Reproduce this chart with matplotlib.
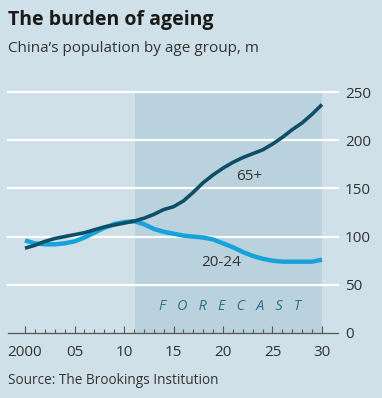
import matplotlib
matplotlib.use("Agg")
import matplotlib.pyplot as plt

# ───────────────────────────────
# Data (millions)
# ───────────────────────────────
years = list(range(2000, 2031))
age_65_plus = [88, 91, 95, 98, 100, 102, 104, 107, 110, 112, 114,
               116, 119, 123, 128, 131, 137, 146, 156, 164, 171,
               177, 182, 186, 190, 196, 203, 211, 218, 227, 237]
age_20_24 = [96, 93, 92, 92, 93, 95, 99, 104, 109, 113, 115,
             116, 113, 108, 105, 103, 101, 100, 99, 97, 93,
             89, 84, 80, 77, 75, 74, 74, 74, 74, 76]

forecast_start = 2011.1
forecast_end = 2030
y_ticks = [0, 50, 100, 150, 200, 250]
x_ticks = [2000, 2005, 2010, 2015, 2020, 2025, 2030]
x_labels = ["2000", "05", "10", "15", "20", "25", "30"]

BG = "#cfe0e8"
SHADE = "#bad2de"
DARK = "#0d4f66"
LIGHT = "#17a2dc"
TEXT = "#333333"

plt.rcParams["font.family"] = ["Open Sans", "DejaVu Sans"]

W, H = 382, 398
fig = plt.figure(figsize=(W / 100, H / 100), dpi=100, facecolor=BG)

# axes placed in pixel terms: 0 at y=333, 250 at y=92
x0_px, x1_px = 8, 338
left = x0_px / W
bottom = (H - 333) / H
top = (H - 92) / H
ax = fig.add_axes([left, bottom, (x1_px - x0_px) / W, top - bottom])
ax.set_facecolor(BG)

px_per_year = (322 - 25) / 30
ax.set_xlim(2000 - (25 - x0_px) / px_per_year, 2030 + (x1_px - 322) / px_per_year)
ax.set_ylim(0, 250)

ax.axvspan(forecast_start, forecast_end, ymin=0, ymax=1, color=SHADE, zorder=0, lw=0)

for v in y_ticks[1:]:
    ax.axhline(v, color="white", lw=1.6, zorder=1, clip_on=False)

ax.plot(years, age_65_plus, color=DARK, lw=2.6, zorder=3, solid_capstyle="butt")
ax.plot(years, age_20_24, color=LIGHT, lw=3.2, zorder=2, solid_capstyle="butt")

ax.text(2022.6, 162, "65+", fontsize=11, color=TEXT, ha="center", va="center")
ax.text(2019.8, 73, "20-24", fontsize=11, color=TEXT, ha="center", va="center")
ax.text(2020.7, 28, "F   O   R   E   C   A   S   T", fontsize=10.3, color="#2a6f86",
        style="italic", ha="center", va="center")

for s in ["top", "left", "right"]:
    ax.spines[s].set_visible(False)
ax.spines["bottom"].set_color("#555555")
ax.spines["bottom"].set_linewidth(0.9)

ax.yaxis.tick_right()
ax.set_yticks(y_ticks)
ax.set_yticklabels([str(v) for v in y_ticks])
ax.tick_params(axis="y", length=0, pad=5, labelsize=11, labelcolor=TEXT)

ax.set_xticks(x_ticks)
ax.set_xticklabels(x_labels)
ax.set_xticks(years, minor=True)
ax.tick_params(axis="x", which="major", direction="in", length=5, width=0.8,
               color="#555555", pad=9, labelsize=11, labelcolor=TEXT)
ax.tick_params(axis="x", which="minor", direction="in", length=3, width=0.8,
               color="#555555")

fig.text(8 / W, 1 - 20 / H, "The burden of ageing", fontsize=14,
         fontweight="bold", color="#1a1a1a", ha="left", va="center")
fig.text(8 / W, 1 - 48 / H, "China\u2019s population by age group, m", fontsize=11,
         color=TEXT, ha="left", va="center")
fig.text(8 / W, 1 - 381 / H, "Source: The Brookings Institution", fontsize=9.8,
         color=TEXT, ha="left", va="center")

fig.savefig("out.png", dpi=100, facecolor=BG)
